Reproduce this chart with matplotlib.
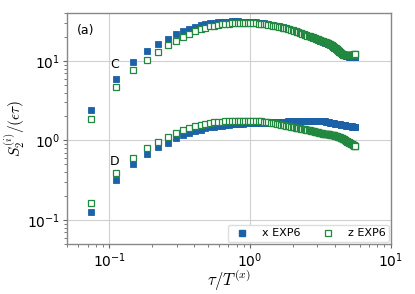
import matplotlib

matplotlib.use("Agg")
import matplotlib.pyplot as plt
from matplotlib.lines import Line2D

# time lag tau / T^(x)
tau = [
    0.074, 0.111, 0.148, 0.185, 0.222, 0.259, 0.296, 0.333, 0.370, 0.407,
    0.444, 0.481, 0.518, 0.555, 0.592, 0.629, 0.666, 0.703, 0.740, 0.777,
    0.814, 0.851, 0.888, 0.925, 0.962, 1.0,
    1.05, 1.10, 1.15, 1.20, 1.25, 1.30, 1.35, 1.40, 1.45, 1.50,
    1.55, 1.60, 1.65, 1.70, 1.75, 1.80, 1.85, 1.90, 1.95, 2.00,
    2.05, 2.10, 2.15, 2.20, 2.25, 2.30, 2.35, 2.40, 2.45, 2.50,
    2.55, 2.60, 2.65, 2.70, 2.75, 2.80, 2.85, 2.90, 2.95, 3.00,
    3.05, 3.10, 3.15, 3.20, 3.25, 3.30, 3.35, 3.40, 3.45, 3.50,
    3.55, 3.60, 3.65, 3.70, 3.75, 3.80, 3.85, 3.90, 3.95, 4.00,
    4.05, 4.10, 4.15, 4.20, 4.25, 4.30, 4.35, 4.40, 4.45, 4.50,
    4.55, 4.60, 4.65, 4.70, 4.75, 4.80, 4.85, 4.90, 4.95, 5.00,
    5.05, 5.10, 5.15, 5.20, 5.25, 5.30, 5.35, 5.40, 5.45, 5.50,
    5.55, 5.60,
]

# group C
x_C = [
    2.40, 6.0, 9.8, 13.3, 16.5, 19.0, 21.5, 23.7, 25.4, 26.9,
    28.0, 29.0, 29.7, 30.2, 30.6, 30.9, 31.1, 31.2, 31.3, 31.3,
    31.3, 31.2, 31.1, 31.0, 30.9, 30.8,
    30.6, 30.4, 30.1, 29.8, 29.5, 29.2, 28.9, 28.5, 28.2, 27.8,
    27.5, 27.1, 26.8, 26.4, 26.1, 25.7, 25.3, 25.0, 24.6, 24.3,
    23.9, 23.6, 23.2, 22.9, 22.6, 22.3, 22.0, 21.7, 21.4, 21.1,
    20.8, 20.6, 20.3, 20.1, 19.8, 19.6, 19.3, 19.1, 18.9, 18.7,
    18.4, 18.2, 18.0, 17.8, 17.6, 17.4, 17.2, 17.0, 16.9, 16.7,
    16.5, 16.3, 16.1, 15.9, 15.6, 15.4, 15.1, 14.9, 14.6, 14.4,
    14.1, 13.9, 13.6, 13.4, 13.2, 13.0, 12.8, 12.6, 12.4, 12.3,
    12.1, 12.0, 11.9, 11.8, 11.7, 11.6, 11.5, 11.5, 11.4, 11.4,
    11.3, 11.3, 11.3, 11.3, 11.2, 11.2, 11.2, 11.2, 11.1, 11.1,
    11.1, 11.1,
]
z_C = [
    1.84, 4.69, 7.66, 10.4, 13.0, 15.7, 18.0, 19.9, 22.0, 23.7,
    25.0, 26.2, 27.1, 27.8, 28.3, 28.7, 29.1, 29.4, 29.6, 29.8,
    29.9, 30.0, 30.0, 30.0, 30.0, 29.9,
    29.8, 29.6, 29.4, 29.2, 28.9, 28.7, 28.4, 28.1, 27.8, 27.5,
    27.2, 26.9, 26.6, 26.2, 25.9, 25.5, 25.2, 24.8, 24.5, 24.1,
    23.8, 23.5, 23.1, 22.8, 22.5, 22.2, 21.9, 21.6, 21.3, 21.1,
    20.8, 20.6, 20.3, 20.1, 19.9, 19.7, 19.4, 19.2, 19.0, 18.8,
    18.6, 18.4, 18.2, 18.0, 17.8, 17.6, 17.4, 17.3, 17.1, 17.0,
    16.8, 16.6, 16.4, 16.1, 15.9, 15.6, 15.4, 15.1, 14.9, 14.6,
    14.4, 14.1, 13.9, 13.6, 13.4, 13.1, 12.9, 12.7, 12.5, 12.3,
    12.1, 12.0, 11.9, 11.8, 11.7, 11.7, 11.7, 11.7, 11.7, 11.7,
    11.8, 11.8, 11.8, 11.9, 11.9, 12.0, 12.0, 12.0, 12.0, 12.1,
    12.1, 12.1,
]

# group D
x_D = [
    0.128, 0.320, 0.503, 0.667, 0.817, 0.935, 1.06, 1.17, 1.24, 1.31,
    1.37, 1.42, 1.46, 1.49, 1.52, 1.54, 1.56, 1.58, 1.59, 1.60,
    1.61, 1.62, 1.63, 1.64, 1.64, 1.65,
    1.66, 1.66, 1.67, 1.67, 1.68, 1.68, 1.69, 1.69, 1.70, 1.70,
    1.71, 1.71, 1.72, 1.72, 1.73, 1.73, 1.74, 1.74, 1.75, 1.75,
    1.75, 1.76, 1.76, 1.76, 1.77, 1.77, 1.77, 1.77, 1.78, 1.78,
    1.78, 1.78, 1.78, 1.78, 1.78, 1.78, 1.78, 1.78, 1.78, 1.77,
    1.77, 1.77, 1.77, 1.76, 1.76, 1.75, 1.75, 1.74, 1.73, 1.72,
    1.71, 1.70, 1.69, 1.68, 1.67, 1.66, 1.65, 1.64, 1.64, 1.63,
    1.62, 1.61, 1.61, 1.60, 1.60, 1.59, 1.59, 1.58, 1.58, 1.57,
    1.57, 1.56, 1.56, 1.55, 1.55, 1.54, 1.54, 1.53, 1.53, 1.52,
    1.52, 1.51, 1.51, 1.50, 1.50, 1.49, 1.49, 1.48, 1.48, 1.47,
    1.47, 1.46,
]
z_D = [
    0.164, 0.388, 0.605, 0.793, 0.97, 1.11, 1.24, 1.34, 1.44, 1.51,
    1.57, 1.62, 1.66, 1.69, 1.71, 1.73, 1.74, 1.75, 1.76, 1.77,
    1.77, 1.78, 1.78, 1.78, 1.78, 1.78,
    1.77, 1.76, 1.75, 1.74, 1.72, 1.70, 1.69, 1.67, 1.65, 1.64,
    1.62, 1.60, 1.58, 1.57, 1.55, 1.53, 1.52, 1.50, 1.49, 1.47,
    1.46, 1.45, 1.44, 1.43, 1.42, 1.41, 1.40, 1.39, 1.38, 1.37,
    1.36, 1.35, 1.34, 1.33, 1.32, 1.31, 1.30, 1.29, 1.28, 1.27,
    1.26, 1.25, 1.25, 1.24, 1.23, 1.22, 1.22, 1.21, 1.21, 1.20,
    1.20, 1.19, 1.19, 1.18, 1.18, 1.17, 1.17, 1.16, 1.16, 1.15,
    1.15, 1.14, 1.13, 1.12, 1.11, 1.10, 1.09, 1.08, 1.07, 1.06,
    1.05, 1.04, 1.03, 1.01, 1.00, 0.99, 0.98, 0.97, 0.96, 0.95,
    0.94, 0.93, 0.92, 0.91, 0.90, 0.89, 0.88, 0.87, 0.865, 0.86,
    0.855, 0.85,
]

for s in (x_C, z_C, x_D, z_D):
    assert len(s) == len(tau), len(s)

BLUE = "#1b62a8"
GREEN = "#22873f"

plt.rcParams.update({
    "font.family": "DejaVu Sans",
    "mathtext.fontset": "cm",
})

fig = plt.figure(figsize=(4.15, 2.94), dpi=100)
ax = fig.add_axes([0.1614, 0.170, 0.7806, 0.786])

ms = 3.8
ax.plot(tau, x_C, ls="none", marker="s", ms=ms, color=BLUE, mec=BLUE, mew=0.6)
ax.plot(tau, z_C, ls="none", marker="s", ms=ms, mfc="white", mec=GREEN, mew=0.9)
ax.plot(tau, x_D, ls="none", marker="s", ms=ms, color=BLUE, mec=BLUE, mew=0.6)
ax.plot(tau, z_D, ls="none", marker="s", ms=ms, mfc="white", mec=GREEN, mew=0.9)

ax.set_xscale("log")
ax.set_yscale("log")
ax.set_xlim(0.05, 10)
ax.set_ylim(0.05, 40)

ax.grid(which="major", color="#d0d0d0", lw=0.8)
ax.set_axisbelow(True)
for sp in ax.spines.values():
    sp.set_color("#888888")
    sp.set_linewidth(1.0)
ax.tick_params(which="major", direction="out", length=3, color="#666666",
               labelsize=10, pad=2)
ax.tick_params(which="minor", direction="out", length=2, color="#666666")

ax.set_xlabel(r"$\tau/T^{(x)}$", fontsize=12, labelpad=-1)
ax.set_ylabel(r"$S_2^{(i)}/(\epsilon\tau)$", fontsize=11, labelpad=0)

ax.text(0.03, 0.95, "(a)", transform=ax.transAxes, ha="left", va="top", fontsize=9)
ax.text(0.101, 8.9, "C", ha="left", va="center", fontsize=9)
ax.text(0.101, 0.55, "D", ha="left", va="center", fontsize=9)

handles = [
    Line2D([0], [0], ls="none", marker="s", ms=ms, color=BLUE, label="x EXP6"),
    Line2D([0], [0], ls="none", marker="s", ms=ms, mfc="white", mec=GREEN, mew=0.9, label="z EXP6"),
]
ax.legend(handles=handles, loc="lower right", ncol=2, fontsize=8, frameon=True,
          borderaxespad=0.2, handletextpad=0.8, columnspacing=1.4,
          borderpad=0.3, edgecolor="#dddddd", framealpha=1.0, fancybox=True)

fig.savefig("out.png", dpi=100)
